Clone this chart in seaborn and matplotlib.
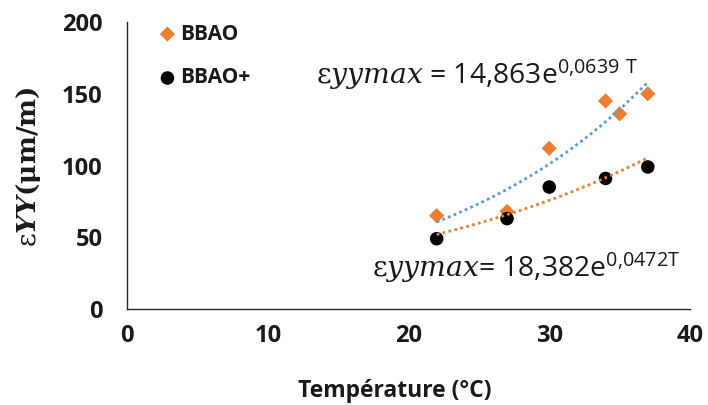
import matplotlib
matplotlib.use('Agg')

import numpy as np
import pandas as pd
import matplotlib.pyplot as plt
import seaborn as sns

# values
temp_bbao = [22, 27, 30, 34, 35, 37]
eps_bbao = [65, 68, 112, 145, 136, 150]
temp_bbao_plus = [22, 27, 30, 34, 37]
eps_bbao_plus = [49, 63, 85, 91, 99]

# exponential trendlines a*exp(b*T), coefficients as printed on the chart
trend_bbao = (14.863, 0.0639)
trend_bbao_plus = (18.382, 0.0472)
trend_range = (22, 37)

x_ticks = [0, 10, 20, 30, 40]
y_ticks = [0, 50, 100, 150, 200]

ORANGE = '#ED7D31'
BLUE = '#5B9BD5'
TEXT = '#1a1a1a'

sns.set_style('white')
plt.rcParams['font.family'] = ['Open Sans', 'DejaVu Sans']
plt.rcParams['mathtext.fontset'] = 'custom'
plt.rcParams['mathtext.rm'] = 'DejaVu Serif'
plt.rcParams['mathtext.it'] = 'DejaVu Serif:italic'
plt.rcParams['mathtext.bf'] = 'DejaVu Serif:bold'
plt.rcParams['mathtext.bfit'] = 'DejaVu Serif:italic:bold'
plt.rcParams['mathtext.sf'] = 'Open Sans'

df_bbao = pd.DataFrame({'T': temp_bbao, 'eps': eps_bbao})
df_plus = pd.DataFrame({'T': temp_bbao_plus, 'eps': eps_bbao_plus})

fig = plt.figure(figsize=(7.08, 4.05), dpi=100)
ax = fig.add_axes([0.1794, 0.237, 0.7952, 0.7086])

# scatter points
sns.scatterplot(data=df_bbao, x='T', y='eps', marker='D', s=60, color=ORANGE,
                edgecolor='none', label='BBAO', ax=ax, zorder=2)
sns.scatterplot(data=df_plus, x='T', y='eps', marker='o', s=95, color='black',
                edgecolor='none', label='BBAO+', ax=ax, zorder=2)

# trendlines (dotted, drawn over the markers like in Excel)
t_fit = np.linspace(trend_range[0], trend_range[1], 100)
fit_df = pd.DataFrame({
    'T': t_fit,
    'bbao': trend_bbao[0] * np.exp(trend_bbao[1] * t_fit),
    'plus': trend_bbao_plus[0] * np.exp(trend_bbao_plus[1] * t_fit),
})
sns.lineplot(data=fit_df, x='T', y='bbao', color=BLUE, lw=2,
             linestyle=(0, (1, 1.2)), ax=ax, zorder=3)
sns.lineplot(data=fit_df, x='T', y='plus', color=ORANGE, lw=2,
             linestyle=(0, (1, 1.2)), ax=ax, zorder=3)

# equations
ax.text(13.4, 156.5,
        r'$\mathrm{\varepsilon}yymax$ = 14,863e$^{\mathsf{0{,}0639\ T}}$',
        fontsize=20.3, color=TEXT, va='baseline')
ax.text(17.4, 22.5,
        r'$\mathrm{\varepsilon}yymax$= 18,382e$^{\mathsf{0{,}0472T}}$',
        fontsize=20.3, color=TEXT, va='baseline')

ax.set_xlim(0, 40)
ax.set_ylim(0, 200)
ax.set_xticks(x_ticks)
ax.set_yticks(y_ticks)
ax.set_xticklabels([str(v) for v in x_ticks], fontweight='bold', fontsize=17)
ax.set_yticklabels([str(v) for v in y_ticks], fontweight='bold', fontsize=17)
ax.tick_params(length=0, colors=TEXT)
ax.tick_params(axis='x', pad=10.5)
ax.tick_params(axis='y', pad=17.5)

ax.set_xlabel('Température (°C)', fontweight='bold', fontsize=16.5, color=TEXT)
ax.set_ylabel(r'$\mathrm{\varepsilon}\mathbfit{YY}\mathbf{(\mu m/m)}$',
              fontsize=19, color=TEXT)
ax.xaxis.set_label_coords(0.476, -0.245)
ax.yaxis.set_label_coords(-0.149, 0.495)

for side in ['top', 'right']:
    ax.spines[side].set_visible(False)
for side in ['left', 'bottom']:
    ax.spines[side].set_color('#262626')
    ax.spines[side].set_linewidth(1)

leg = ax.legend(loc='upper left', bbox_to_anchor=(0.02, 1.06), frameon=False,
                handletextpad=0.1, labelspacing=1.1, handlelength=1.0,
                prop={'weight': 'bold', 'size': 15})
for txt in leg.get_texts():
    txt.set_color(TEXT)

plt.savefig('out.png', dpi=100)
plt.close()
